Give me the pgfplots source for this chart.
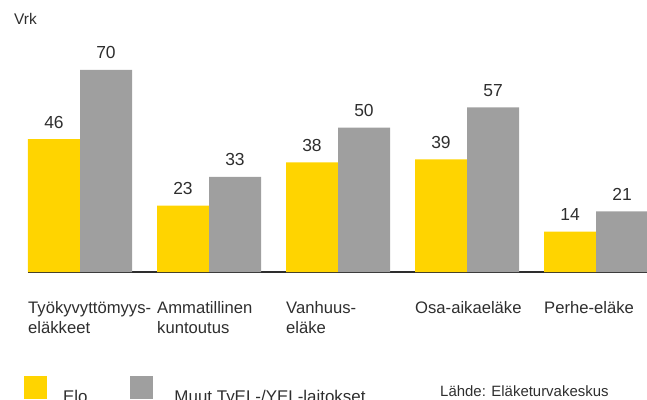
\documentclass[border=0pt]{standalone}
\usepackage{pgfplots}
\pgfplotsset{compat=1.18}
\usepackage{fontspec}
\setmainfont{Liberation Sans}
\definecolor{eloyellow}{HTML}{FFD400}
\definecolor{muutgray}{HTML}{9F9F9F}
\definecolor{txt}{HTML}{2E2E2E}
\begin{document}
\begin{tikzpicture}
\useasboundingbox (0,0) rectangle (647bp,400bp);
\begin{axis}[
  at={(28bp,128bp)}, anchor=south west,
  x=129bp, y=2.886bp,
  xmin=-0.4031, xmax=4.3953, ymin=0, ymax=80,
  enlargelimits=false, clip=false,
  ybar=0pt, bar width=52bp,
  axis x line=bottom, axis y line=none,
  x axis line style={-, line width=2bp, color=txt},
  /pgf/number format/assume math mode=true,
  xtick={0,1,2,3,4}, major tick length=0pt,
  xticklabels={{Työkyvyttömyys-\\eläkkeet},{Ammatillinen\\kuntoutus},{Vanhuus-\\eläke},{Osa-aikaeläke\\\mbox{}},{Perhe-eläke\\\mbox{}}},
  xticklabel style={anchor=base west, align=left, inner sep=0pt, xshift=-52bp, yshift=-61bp, font=\fontsize{16.7}{20}\selectfont, text=txt},
  ytick=\empty,
  nodes near coords,
  every node near coord/.append style={anchor=base, yshift=11bp, font=\fontsize{17.5}{20}\selectfont, text=txt, inner sep=0pt},
  legend image code/.code={\fill[#1, draw=none] (0bp,-2.5bp) rectangle (23bp,20.7bp);},
  legend style={at={(-0.00646,-0.5107)}, anchor=west, draw=none, fill=none, inner sep=0pt, outer sep=0pt,
    font=\fontsize{17}{20}\selectfont, text=txt, nodes={inner sep=0pt},
    /tikz/every odd column/.append style={column sep=16bp},
    /tikz/every even column/.append style={column sep=43bp}},
  legend columns=2,
]
\addplot[fill=eloyellow, draw=none] coordinates {(0,46) (1,23) (2,38) (3,39) (4,14)};
\addplot[fill=muutgray, draw=none] coordinates {(0,70) (1,33) (2,50) (3,57) (4,21)};
\legend{Elo, \hspace{5bp}Muut TyEL-/YEL-laitokset}
\node[anchor=base west, inner sep=0pt, font=\fontsize{15}{18}\selectfont, text=txt] at (axis description cs:0.6656,-0.540) {Lähde: Eläketurvakeskus};
\node[anchor=base west, inner sep=0pt, font=\fontsize{15.5}{18}\selectfont, text=txt] at (axis description cs:-0.0226,1.0698) {Vrk};
\end{axis}
\end{tikzpicture}
\end{document}
